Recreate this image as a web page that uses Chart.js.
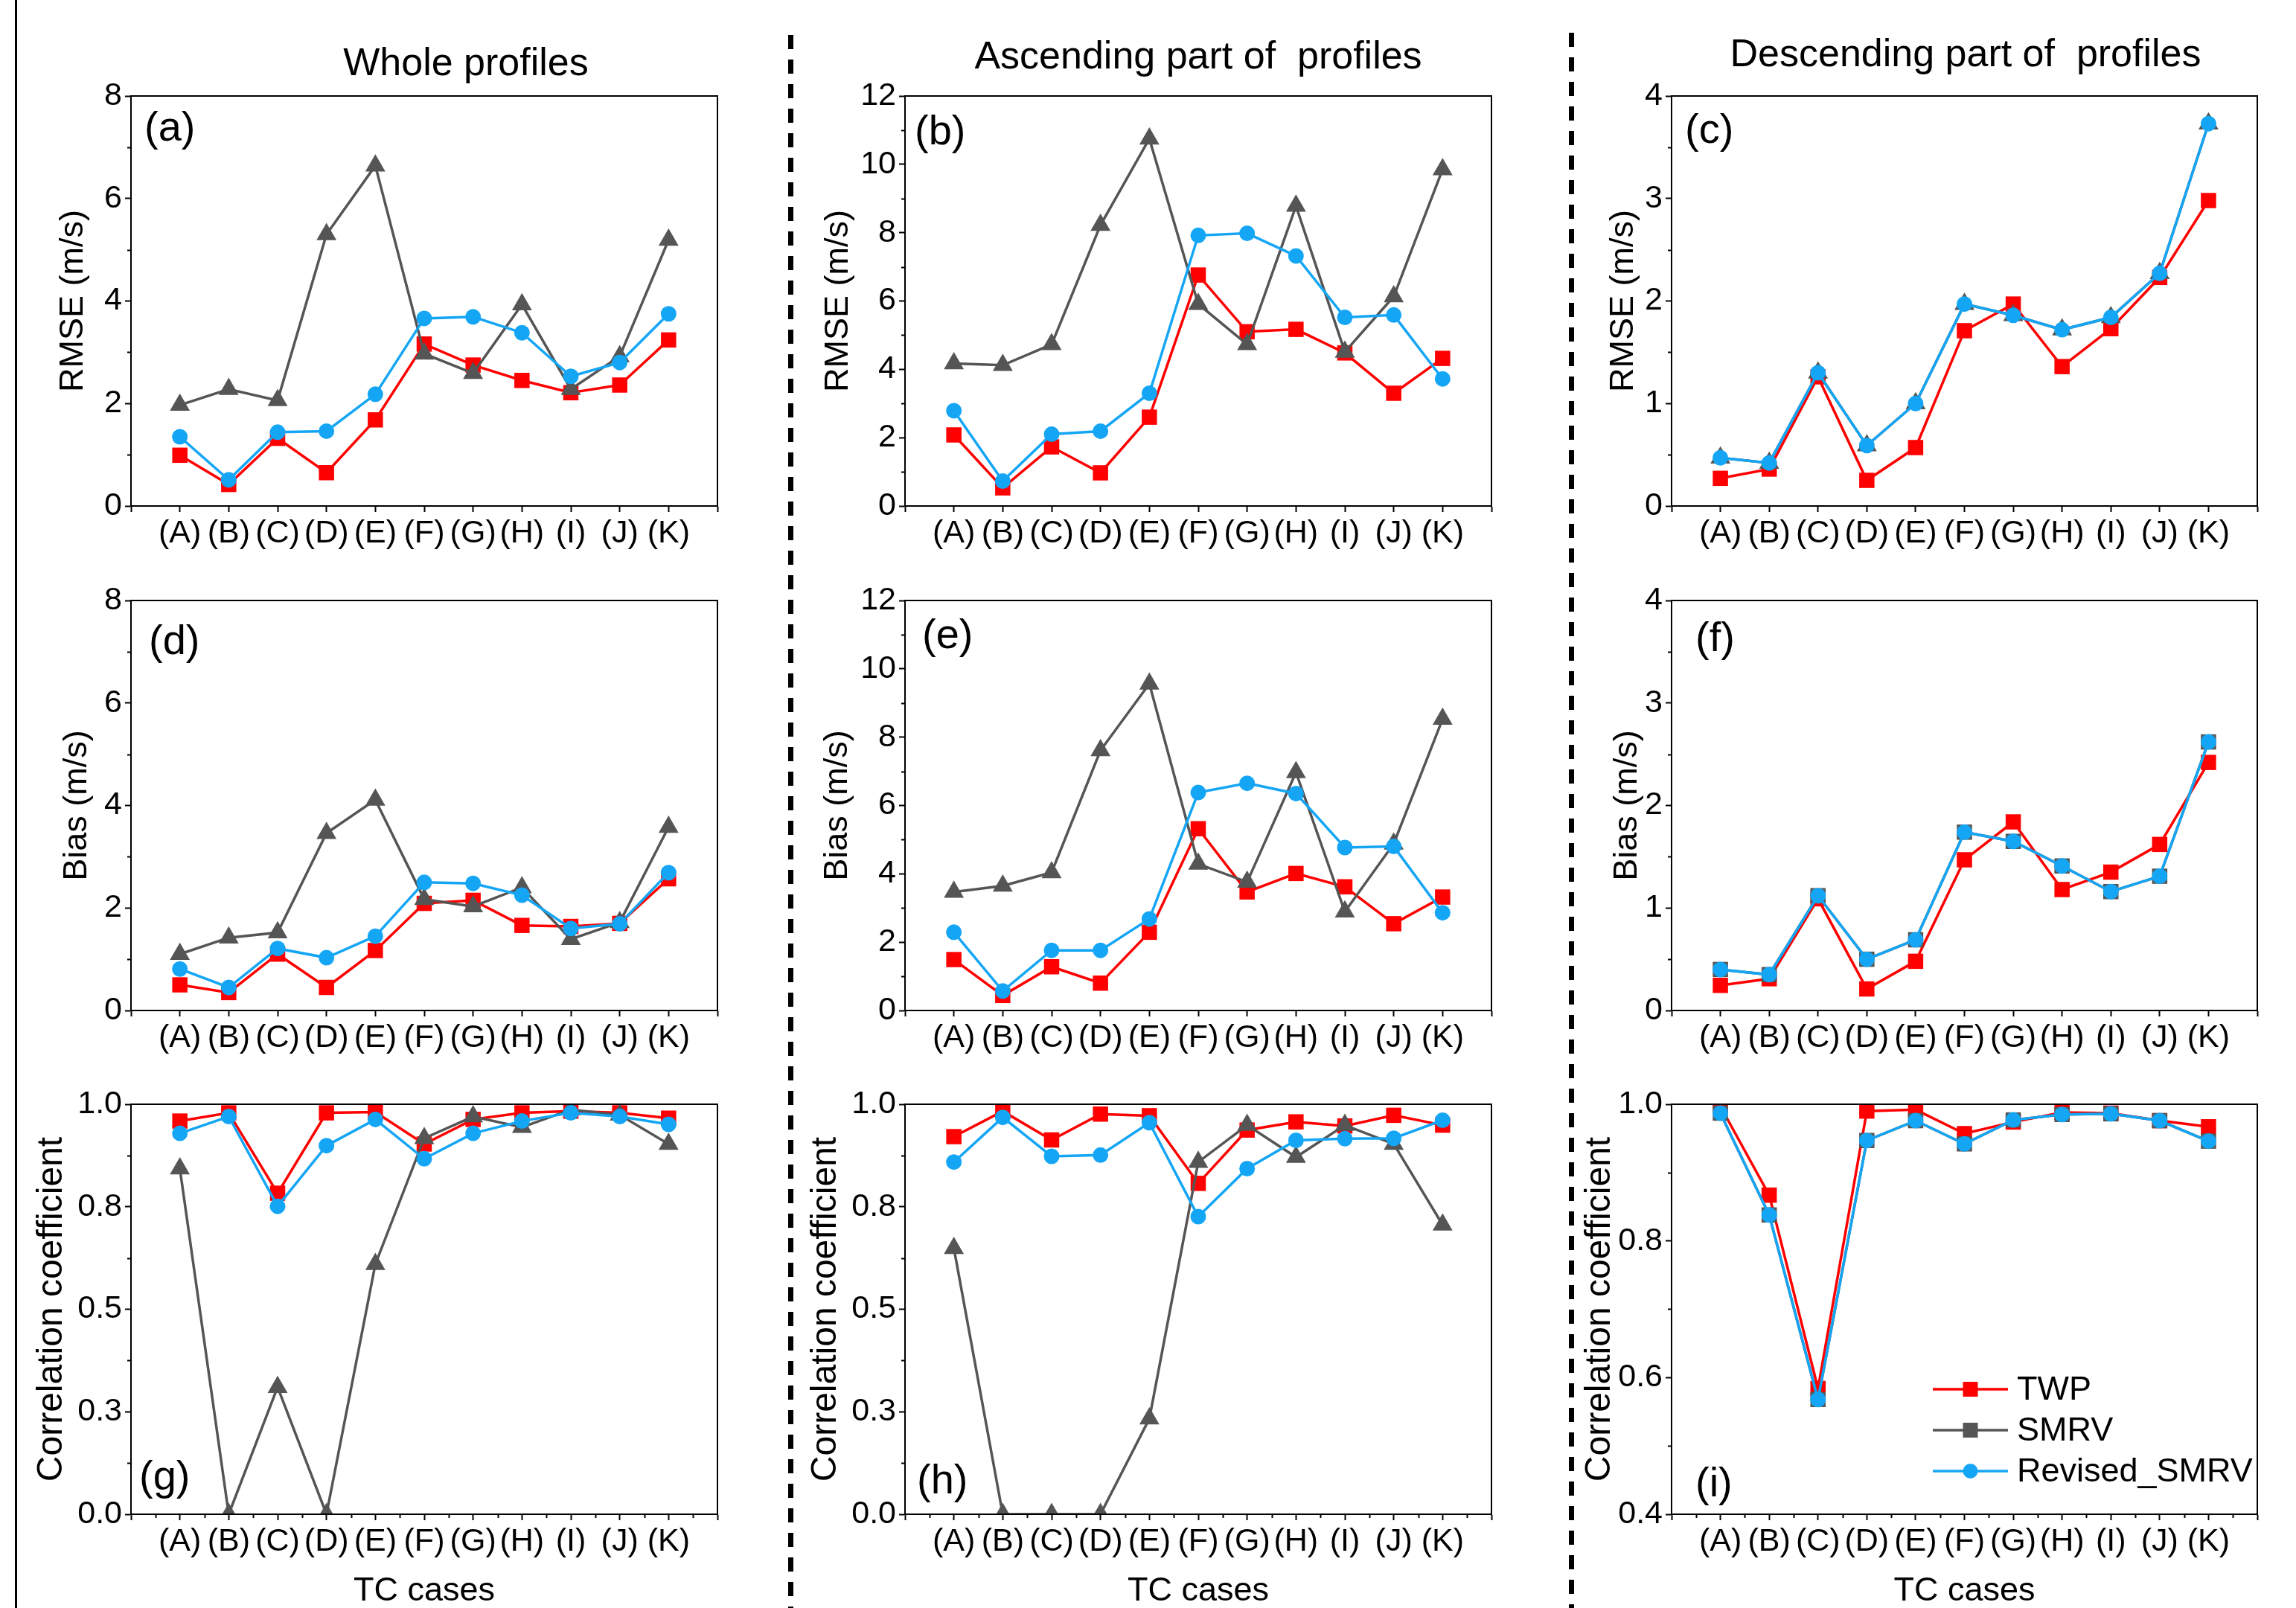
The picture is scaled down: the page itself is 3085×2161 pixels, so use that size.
<!DOCTYPE html>
<html>
<head>
<meta charset="utf-8">
<script src="https://cdn.jsdelivr.net/npm/chart.js@4.4.0/dist/chart.umd.min.js"></script>
<style>
  body { margin: 0; width: 3085px; height: 2161px; background: #fff; position: relative; overflow: hidden;
         font-family: "Liberation Sans", Arial, sans-serif; color: #000; }
  .coltitle { position: absolute; font-size: 52px; line-height: 1; white-space: pre; transform: translateX(-50%); }
  .solid { position: absolute; left: 20px; top: 0; width: 3px; height: 2161px; background: #000; }
  .dashed { position: absolute; width: 7px; bottom: 0;
            background: repeating-linear-gradient(to bottom, #000 0 19px, transparent 19px 33px); }
</style>
</head>
<body>
<div class="solid"></div>
<div class="dashed" style="left:1059px; top:47px;"></div>
<div class="dashed" style="left:2108px; top:44px;"></div>
<div class="coltitle" style="left:626px; top:57px;">Whole profiles</div>
<div class="coltitle" style="left:1610px; top:48px;">Ascending part of  profiles</div>
<div class="coltitle" style="left:2641px; top:45px;">Descending part of  profiles</div>

<script>
const cases = ['(A)', '(B)', '(C)', '(D)', '(E)', '(F)', '(G)', '(H)', '(I)', '(J)', '(K)'];
const seriesNames = ['TWP', 'SMRV', 'Revised_SMRV'];

// RMSE (m/s)
const rmseWholeTWP  = [0.99, 0.42, 1.32, 0.65, 1.68, 3.16, 2.75, 2.45, 2.21, 2.36, 3.24];
const rmseWholeSMRV = [1.97, 2.28, 2.06, 5.30, 6.64, 2.97, 2.59, 3.93, 2.28, 2.92, 5.19];
const rmseWholeRev  = [1.35, 0.51, 1.44, 1.46, 2.18, 3.66, 3.69, 3.38, 2.53, 2.80, 3.75];
const rmseAscTWP    = [2.08, 0.53, 1.73, 0.97, 2.60, 6.76, 5.10, 5.17, 4.48, 3.30, 4.32];
const rmseAscSMRV   = [4.17, 4.12, 4.73, 8.22, 10.75, 5.91, 4.73, 8.78, 4.51, 6.13, 9.85];
const rmseAscRev    = [2.79, 0.73, 2.10, 2.19, 3.30, 7.92, 7.98, 7.32, 5.52, 5.59, 3.72];
const rmseDescTWP   = [0.27, 0.36, 1.26, 0.25, 0.57, 1.71, 1.97, 1.36, 1.73, 2.23, 2.98];
const rmseDescSMRV  = [0.47, 0.42, 1.30, 0.59, 1.00, 1.97, 1.86, 1.72, 1.84, 2.27, 3.73];
const rmseDescRev   = [0.47, 0.42, 1.30, 0.59, 1.00, 1.97, 1.86, 1.72, 1.84, 2.27, 3.73];

// Bias (m/s)
const biasWholeTWP  = [0.50, 0.35, 1.10, 0.45, 1.17, 2.09, 2.15, 1.66, 1.64, 1.70, 2.57];
const biasWholeSMRV = [1.10, 1.42, 1.52, 3.46, 4.11, 2.17, 2.03, 2.40, 1.39, 1.72, 3.58];
const biasWholeRev  = [0.81, 0.45, 1.21, 1.03, 1.45, 2.50, 2.48, 2.25, 1.60, 1.69, 2.69];
const biasAscTWP    = [1.49, 0.44, 1.28, 0.80, 2.29, 5.32, 3.47, 4.01, 3.62, 2.54, 3.32];
const biasAscSMRV   = [3.47, 3.65, 4.04, 7.61, 9.56, 4.29, 3.76, 6.97, 2.89, 4.88, 8.53];
const biasAscRev    = [2.29, 0.57, 1.76, 1.76, 2.68, 6.38, 6.65, 6.35, 4.77, 4.80, 2.86];
const biasDescTWP   = [0.245, 0.31, 1.09, 0.21, 0.48, 1.47, 1.84, 1.18, 1.35, 1.62, 2.42];
const biasDescSMRV  = [0.40, 0.35, 1.12, 0.50, 0.69, 1.74, 1.65, 1.41, 1.16, 1.31, 2.62];
const biasDescRev   = [0.40, 0.35, 1.12, 0.50, 0.69, 1.74, 1.65, 1.41, 1.16, 1.31, 2.62];

// Correlation coefficient
const corrWholeTWP  = [0.959, 0.979, 0.783, 0.979, 0.981, 0.903, 0.963, 0.979, 0.983, 0.979, 0.966];
const corrWholeSMRV = [0.843, 0, 0.310, 0, 0.610, 0.917, 0.970, 0.944, 0.987, 0.974, 0.903];
const corrWholeRev  = [0.929, 0.970, 0.751, 0.899, 0.963, 0.867, 0.929, 0.959, 0.979, 0.970, 0.951];
const corrAscTWP    = [0.921, 0.983, 0.913, 0.976, 0.972, 0.807, 0.937, 0.957, 0.947, 0.973, 0.949];
const corrAscSMRV   = [0.649, 0, 0, 0, 0.233, 0.859, 0.949, 0.871, 0.949, 0.903, 0.706];
const corrAscRev    = [0.859, 0.968, 0.873, 0.876, 0.955, 0.726, 0.843, 0.912, 0.916, 0.917, 0.961];
const corrDescTWP   = [0.997, 0.867, 0.584, 0.990, 0.992, 0.957, 0.974, 0.988, 0.987, 0.976, 0.967];
const corrDescSMRV  = [0.987, 0.838, 0.568, 0.947, 0.976, 0.942, 0.977, 0.985, 0.986, 0.976, 0.946];
const corrDescRev   = [0.987, 0.838, 0.568, 0.947, 0.976, 0.942, 0.977, 0.985, 0.986, 0.976, 0.946];

const FONT = '"Liberation Sans", Arial, sans-serif';
const RED = '#ff0000', GRAY = '#555555', BLUE = '#14a6f5';

// plot-area edges in page pixels
const colLeft = [176, 1216, 2246];
const colRight = [964, 2004, 3033];
const rowTop = [129, 807, 1484];
const rowBottom = [680, 1358, 2035];

const panels = [
  { row: 0, col: 0, letter: '(a)', lx: 18, ly: 60, data: [rmseWholeTWP, rmseWholeSMRV, rmseWholeRev], y: [0, 8, 2], title: 'RMSE (m/s)', ts: 45, toff: 77, smrv: 'triangle' },
  { row: 0, col: 1, letter: '(b)', lx: 13, ly: 65, data: [rmseAscTWP, rmseAscSMRV, rmseAscRev], y: [0, 12, 2], title: 'RMSE (m/s)', ts: 45, toff: 89, smrv: 'triangle' },
  { row: 0, col: 2, letter: '(c)', lx: 18, ly: 63, data: [rmseDescTWP, rmseDescSMRV, rmseDescRev], y: [0, 4, 1], title: 'RMSE (m/s)', ts: 45, toff: 64, smrv: 'triangle' },
  { row: 1, col: 0, letter: '(d)', lx: 24, ly: 72, data: [biasWholeTWP, biasWholeSMRV, biasWholeRev], y: [0, 8, 2], title: 'Bias (m/s)', ts: 45, toff: 72, smrv: 'triangle' },
  { row: 1, col: 1, letter: '(e)', lx: 23, ly: 64, data: [biasAscTWP, biasAscSMRV, biasAscRev], y: [0, 12, 2], title: 'Bias (m/s)', ts: 45, toff: 90, smrv: 'triangle' },
  { row: 1, col: 2, letter: '(f)', lx: 32, ly: 68, data: [biasDescTWP, biasDescSMRV, biasDescRev], y: [0, 4, 1], title: 'Bias (m/s)', ts: 45, toff: 59, smrv: 'rect' },
  { row: 2, col: 0, letter: '(g)', lx: 11, ly: -33, data: [corrWholeTWP, corrWholeSMRV, corrWholeRev], y: [0, 1, 0.25], dec: 1, title: 'Correlation coefficient', ts: 48, toff: 106, smrv: 'triangle' },
  { row: 2, col: 1, letter: '(h)', lx: 16, ly: -28, data: [corrAscTWP, corrAscSMRV, corrAscRev], y: [0, 1, 0.25], dec: 1, title: 'Correlation coefficient', ts: 48, toff: 106, smrv: 'triangle' },
  { row: 2, col: 2, letter: '(i)', lx: 32, ly: -24, data: [corrDescTWP, corrDescSMRV, corrDescRev], y: [0.4, 1, 0.2], dec: 1, title: 'Correlation coefficient', ts: 48, toff: 96, smrv: 'rect', legend: true }
];

function series(label, vals, color, style, radius, order) {
  return {
    label: label,
    data: vals.map((v, i) => ({ x: i + 1, y: v })),
    borderColor: color,
    backgroundColor: color,
    pointBackgroundColor: color,
    borderWidth: 3.5,
    pointStyle: style,
    pointRadius: radius,
    pointHoverRadius: radius,
    pointBorderWidth: 0,
    tension: 0,
    clip: 0,
    order: order
  };
}

// frame, minor ticks, panel letter and legend
const decorPlugin = {
  id: 'decor',
  afterDraw(chart, args, opts) {
    const ctx = chart.ctx, a = chart.chartArea, ys = chart.scales.y, xs = chart.scales.x;
    ctx.save();
    ctx.strokeStyle = '#000';
    ctx.lineWidth = 2;
    ctx.strokeRect(a.left, a.top, a.right - a.left, a.bottom - a.top);

    // minor ticks on y
    const [ymin, ymax, ystep] = opts.y;
    const n = Math.round((ymax - ymin) / ystep);
    ctx.beginPath();
    for (let k = 0; k < n; k++) {
      const py = Math.round(ys.getPixelForValue(ymin + (k + 0.5) * ystep)) + 0.5;
      ctx.moveTo(a.left - 5, py);
      ctx.lineTo(a.left, py);
    }
    if (opts.row === 2) {
      for (let k = 0; k < 12; k++) {
        const px = Math.round(xs.getPixelForValue(k + 0.5)) + 0.5;
        ctx.moveTo(px, a.bottom);
        ctx.lineTo(px, a.bottom + 5);
      }
    }
    ctx.stroke();

    ctx.fillStyle = '#000';
    ctx.font = '56px ' + FONT;
    ctx.textBaseline = 'alphabetic';
    ctx.textAlign = 'left';
    const ly = opts.ly > 0 ? a.top + opts.ly : a.bottom + opts.ly;
    ctx.fillText(opts.letter, a.left + opts.lx, ly);

    if (opts.legend) {
      const items = [[seriesNames[0], RED, 'rect'], [seriesNames[1], GRAY, 'rect'], [seriesNames[2], BLUE, 'circle']];
      ctx.font = '45px ' + FONT;
      ctx.textBaseline = 'middle';
      items.forEach((it, i) => {
        const y = a.top + 383 + i * 55;
        const x0 = a.left + 351, x1 = a.left + 452, xm = (x0 + x1) / 2;
        ctx.strokeStyle = it[1];
        ctx.lineWidth = 3.5;
        ctx.beginPath();
        ctx.moveTo(x0, y);
        ctx.lineTo(x1, y);
        ctx.stroke();
        ctx.fillStyle = it[1];
        if (it[2] === 'rect') {
          ctx.fillRect(xm - 10, y - 10, 20, 20);
        } else {
          ctx.beginPath();
          ctx.arc(xm, y, 10, 0, Math.PI * 2);
          ctx.fill();
        }
        ctx.fillStyle = '#000';
        ctx.fillText(it[0], a.left + 464, y + 2);
      });
    }
    ctx.restore();
  }
};

function makePanel(p) {
  const plotL = colLeft[p.col], plotR = colRight[p.col];
  const plotT = rowTop[p.row], plotB = rowBottom[p.row];
  const axisW = 170, padT = 30, padR = 30;
  const axisH = p.row === 2 ? 2161 - plotB : 90;
  const w = plotR - plotL + axisW + padR;
  const h = plotB - plotT + padT + axisH;

  const canvas = document.createElement('canvas');
  canvas.width = w;
  canvas.height = h;
  canvas.style.position = 'absolute';
  canvas.style.left = (plotL - axisW) + 'px';
  canvas.style.top = (plotT - padT) + 'px';
  document.body.appendChild(canvas);

  const tickGrid = { drawOnChartArea: false, drawTicks: true, tickLength: 8, tickWidth: 2, tickColor: '#000', color: '#000' };
  const border = { display: true, color: '#000', width: 2 };

  new Chart(canvas, {
    type: 'line',
    data: {
      datasets: [
        series(seriesNames[0], p.data[0], RED, 'rect', 14.5, 3),
        series(seriesNames[1], p.data[1], GRAY, p.smrv, p.smrv === 'rect' ? 14.5 : 15.5, 2),
        series(seriesNames[2], p.data[2], BLUE, 'circle', 10.5, 1)
      ]
    },
    options: {
      responsive: false,
      animation: false,
      devicePixelRatio: 1,
      layout: { padding: { left: 0, top: padT, right: padR, bottom: 0 } },
      plugins: {
        legend: { display: false },
        tooltip: { enabled: false },
        decor: { y: p.y, row: p.row, letter: p.letter, lx: p.lx, ly: p.ly, legend: !!p.legend }
      },
      scales: {
        x: {
          type: 'linear',
          min: 0,
          max: 12,
          afterFit: (s) => { s.height = axisH; },
          ticks: {
            stepSize: 1, autoSkip: false, maxRotation: 0, padding: 3, color: '#000',
            font: { family: FONT, size: 43 },
            callback: (v) => cases[v - 1] || ''
          },
          grid: tickGrid,
          border: border,
          title: {
            display: p.row === 2, text: 'TC cases', color: '#000',
            font: { family: FONT, size: 45, lineHeight: 1 }, padding: { top: 0, bottom: 0 }
          }
        },
        y: {
          type: 'linear',
          min: p.y[0],
          max: p.y[1],
          afterFit: (s) => { s.width = axisW; },
          ticks: {
            stepSize: p.y[2], padding: 4, color: '#000',
            font: { family: FONT, size: 43 },
            callback: (v) => p.dec ? v.toFixed(p.dec) : String(Math.round(v))
          },
          grid: tickGrid,
          border: border,
          title: {
            display: true, text: p.title, color: '#000',
            font: { family: FONT, size: p.ts, lineHeight: 1 },
            padding: { top: axisW - p.toff - p.ts / 2, bottom: 0 }
          }
        }
      }
    },
    plugins: [decorPlugin]
  });
}

panels.forEach(makePanel);
</script>
</body>
</html>
